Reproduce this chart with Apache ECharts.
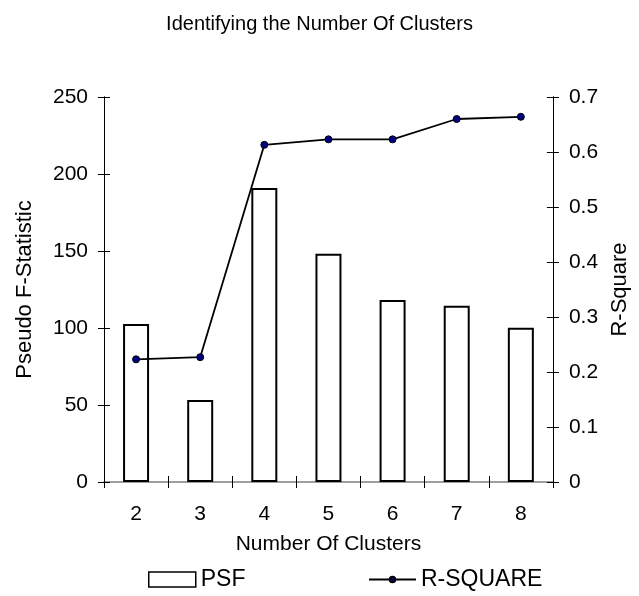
<!DOCTYPE html>
<html>
<head>
<meta charset="utf-8">
<script src="https://cdn.jsdelivr.net/npm/echarts@6/dist/echarts.min.js"></script>
<style>
html,body{margin:0;padding:0;background:#fff;}
#chart{width:639px;height:596px;}
</style>
</head>
<body>
<div id="chart"></div>
<script>
var categories = ['2', '3', '4', '5', '6', '7', '8'];
var psfValues = [102.6, 53.2, 190.9, 148.2, 118.2, 114.5, 100.2];
var rsquareValues = [0.223, 0.227, 0.613, 0.623, 0.623, 0.660, 0.664];
var leftTicks = { min: 0, max: 250, interval: 50 };
var rightTicks = { min: 0, max: 0.7, interval: 0.1 };

var FONT = 'Liberation Sans, Arial, sans-serif';
var chart = echarts.init(document.getElementById('chart'), null, { renderer: 'canvas' });

function yAx(pos, t, showLabel, inside, name, nameGap) {
  return {
    type: 'value', position: pos, min: t.min, max: t.max, interval: t.interval,
    name: name || '', nameLocation: 'middle', nameGap: nameGap || 0,
    nameTextStyle: { fontFamily: FONT, fontSize: 22, color: '#000' },
    axisLine: { show: true, lineStyle: { color: '#000', width: 1 } },
    axisTick: { show: true, inside: inside, length: 6, lineStyle: { color: '#000', width: 1 } },
    axisLabel: { show: showLabel, margin: 16, fontFamily: FONT, fontSize: 21, color: '#000',
      formatter: function (v) { return t.max < 1 ? (v === 0 ? '0' : v.toFixed(1)) : String(v); } },
    splitLine: { show: false }
  };
}

var option = {
  backgroundColor: '#fff',
  animation: false,
  title: {
    text: 'Identifying the Number Of Clusters', left: 'center', top: 9,
    textStyle: { fontFamily: FONT, fontSize: 20, fontWeight: 'normal', color: '#000' }
  },
  grid: { left: 104, right: 83, top: 97, bottom: 114, containLabel: false },
  legend: [
    {
      left: 148, top: 568, padding: 0, itemWidth: 47, itemHeight: 15,
      textStyle: { fontFamily: FONT, fontSize: 23, color: '#000' },
      data: [
        { name: 'PSF', icon: 'rect', itemStyle: { color: '#fff', borderColor: '#000', borderWidth: 1.5 } }
      ]
    },
    {
      left: 368, top: 568, padding: 0, itemWidth: 47, itemHeight: 7,
      textStyle: { fontFamily: FONT, fontSize: 23, color: '#000' },
      data: [ { name: 'R-SQUARE' } ]
    }
  ],
  xAxis: [
    {
      type: 'category', position: 'bottom', data: categories,
      name: 'Number Of Clusters', nameLocation: 'middle', nameGap: 52,
      nameTextStyle: { fontFamily: FONT, fontSize: 21, color: '#000' },
      axisLine: { show: true, lineStyle: { color: '#808080', width: 1.5 } },
      axisTick: { show: true, inside: false, length: 6, lineStyle: { color: '#000' } },
      axisLabel: { margin: 22, fontFamily: FONT, fontSize: 21, color: '#000' }
    },
    {
      type: 'category', position: 'bottom', data: categories,
      axisLine: { show: false },
      axisTick: { show: true, inside: true, length: 6, lineStyle: { color: '#000' } },
      axisLabel: { show: false }
    }
  ],
  yAxis: [
    yAx('left', leftTicks, true, false, 'Pseudo F-Statistic', 68),
    yAx('right', rightTicks, true, false, 'R-Square', 53),
    yAx('left', leftTicks, false, true),
    yAx('right', rightTicks, false, true)
  ],
  series: [
    {
      name: 'PSF', type: 'bar', xAxisIndex: 0, yAxisIndex: 0, data: psfValues, barWidth: 26,
      itemStyle: { color: '#fff', borderColor: '#000', borderWidth: 2 }
    },
    {
      name: 'R-SQUARE', type: 'line', xAxisIndex: 0, yAxisIndex: 1, data: rsquareValues,
      symbol: 'circle', symbolSize: 7,
      lineStyle: { color: '#000', width: 1.8 },
      itemStyle: { color: '#000080', borderColor: '#000', borderWidth: 1 },
      z: 5
    }
  ]
};
chart.setOption(option);
</script>
</body>
</html>
